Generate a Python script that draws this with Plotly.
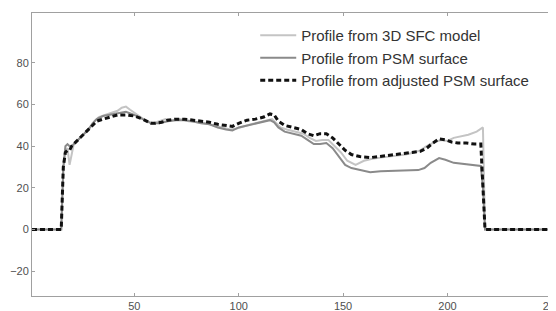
import plotly.graph_objects as go

# 3D SFC model profile (light gray)
x_sfc = [1, 15, 16, 17, 18, 19, 20, 21, 23, 25, 27, 29, 31, 33, 36, 39, 42, 44, 46, 48, 50, 53, 56, 59, 62, 65, 68, 72, 76, 80, 84, 88, 92, 96, 99, 102, 106, 110, 114, 116, 118, 120, 123, 127, 131, 134, 137, 140, 143, 146, 149, 152, 156, 160, 164, 168, 172, 176, 180, 184, 187, 190, 194, 197, 200, 203, 206, 210, 214, 217, 218, 250]
y_sfc = [0, 0, 28, 38, 39, 31, 36, 41, 43, 45, 47, 49, 52, 54, 55, 56, 57, 58.5, 59, 57.5, 56, 54, 52, 51, 52, 53, 52.5, 53, 52, 51.5, 51, 50, 49, 48, 48.5, 49.5, 50.5, 51.5, 52.5, 53, 51, 49, 48, 47, 46, 44, 42.5, 43, 43, 40, 37, 33, 31, 33, 34, 34.5, 35, 35.5, 36, 37, 38, 40, 42, 43, 42.5, 44, 44.5, 45.5, 47, 49, 0, 0]

# PSM surface profile (medium gray)
x_psm = [1, 15, 16, 17, 18, 19, 20, 22, 24, 26, 28, 30, 32, 35, 38, 42, 46, 50, 54, 58, 62, 66, 70, 74, 78, 82, 86, 90, 94, 97, 100, 104, 108, 112, 115, 117, 119, 122, 126, 130, 133, 136, 139, 142, 145, 148, 151, 154, 158, 163, 168, 174, 180, 186, 189, 192, 196, 199, 203, 208, 212, 216, 217, 218, 250]
y_psm = [0, 0, 30, 40, 41, 40, 40, 42, 44, 46, 48, 51, 53, 54.5, 55, 56, 56.5, 55, 53, 51, 51, 52, 52.5, 52.5, 52, 51, 50.5, 49, 48, 47.5, 49, 50, 51, 52, 52.5, 51.5, 49, 47, 46, 45, 43, 41, 41, 41.5, 39, 35, 31, 29.5, 28.5, 27.5, 28, 28.2, 28.3, 28.5, 29.5, 32, 34.3, 33.5, 32, 31.5, 31, 30.5, 20, 0, 0]

# Adjusted PSM surface profile (black dashed)
x_adj = [1, 15, 16, 17, 18, 19, 20, 22, 24, 26, 28, 30, 32, 35, 38, 42, 46, 50, 54, 58, 60, 63, 66, 70, 74, 78, 82, 86, 90, 94, 97, 100, 104, 108, 112, 115, 117, 119, 122, 126, 130, 133, 136, 139, 142, 145, 148, 151, 154, 158, 163, 167, 172, 176, 180, 184, 187, 190, 193, 196, 199, 202, 205, 209, 213, 216, 217, 218, 250]
y_adj = [0, 0, 30, 37, 38, 38, 40, 42, 44, 46, 48, 50, 52, 53, 54, 55, 55, 54.5, 53, 51, 51, 51.5, 52.5, 53, 53, 52.5, 52, 51.5, 50.5, 50, 49.5, 51, 52.5, 53, 54, 55.5, 55, 52, 50, 49, 48, 46, 45, 46, 46, 44, 41, 38, 36, 35, 34.5, 35, 35.5, 36, 36.5, 37, 37.5, 39, 41.5, 43.5, 43, 42, 41.5, 41.5, 41, 41, 20, 0, 0]

x_ticks = [50, 100, 150, 200, 250]
y_ticks = [-20, 0, 20, 40, 60, 80]

fig = go.Figure()
fig.add_trace(go.Scatter(x=x_sfc, y=y_sfc, mode="lines", name="Profile from 3D SFC model",
                         line=dict(color="#c4c4c4", width=2)))
fig.add_trace(go.Scatter(x=x_psm, y=y_psm, mode="lines", name="Profile from PSM surface",
                         line=dict(color="#8a8a8a", width=2)))
fig.add_trace(go.Scatter(x=x_adj, y=y_adj, mode="lines", name="Profile from adjusted PSM surface",
                         line=dict(color="#111111", width=3, dash="5px,3px")))

axis_common = dict(showgrid=False, zeroline=False, showline=True, linecolor="#a0a0a0", linewidth=1,
                   ticks="inside", ticklen=3, tickcolor="#a0a0a0", automargin=False,
                   ticklabeloverflow="allow",
                   tickfont=dict(family="Liberation Sans, Arial", size=11, color="#505050"))

# page body adds an 8px offset; figure is sized so it ends at the window edge
fig.update_layout(
    width=548, height=303,
    margin=dict(l=24, r=0, t=5, b=15, autoexpand=False),
    paper_bgcolor="white", plot_bgcolor="white",
    xaxis=dict(range=[1, 252], tickvals=x_ticks, mirror="ticks", **axis_common),
    yaxis=dict(range=[-32, 104], tickvals=y_ticks, mirror=False, **axis_common),
    legend=dict(x=0.426, y=0.979, xanchor="left", yanchor="top", bgcolor="rgba(0,0,0,0)",
                font=dict(family="Liberation Sans, Arial", size=15, color="#333333"),
                tracegroupgap=0, itemwidth=36),
    showlegend=True,
)

fig.write_html("out.html")
